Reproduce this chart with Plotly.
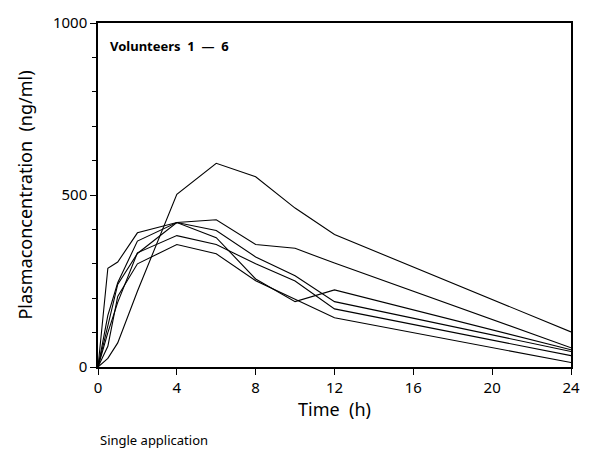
import plotly.graph_objects as go

time_h = [0, 0.5, 1, 2, 4, 6, 8, 10, 12, 24]

vol_1 = [0, 25, 70, 220, 502, 592, 553, 462, 385, 102]
vol_2 = [0, 120, 240, 330, 420, 428, 356, 345, 302, 56]
vol_3 = [0, 287, 305, 390, 420, 397, 320, 265, 190, 45]
vol_4 = [0, 150, 245, 366, 420, 376, 256, 190, 224, 50]
vol_5 = [0, 100, 188, 332, 382, 356, 300, 250, 169, 33]
vol_6 = [0, 60, 205, 300, 356, 329, 251, 197, 143, 13]

series = [vol_1, vol_2, vol_3, vol_4, vol_5, vol_6]

x_ticks = [0, 4, 8, 12, 16, 20, 24]
y_ticks = [0, 500, 1000]

FONT = "Noto Sans"
NB = "\u00a0"

fig = go.Figure()
for s in series:
    fig.add_trace(go.Scatter(x=time_h, y=s, mode="lines",
                             line=dict(color="black", width=1.1),
                             showlegend=False, hoverinfo="skip"))

fig.update_layout(
    width=592, height=450,
    margin=dict(l=98, r=20, t=20, b=83),
    paper_bgcolor="white", plot_bgcolor="white",
    font=dict(family=FONT, color="black", size=14),
    xaxis=dict(range=[0, 24], tickvals=x_ticks, ticktext=[str(v) for v in x_ticks],
               showgrid=False, zeroline=False, showline=True, linecolor="black",
               linewidth=1.5, mirror=True, ticks="outside", ticklen=6,
               tickcolor="black", tickwidth=1.2,
               tickfont=dict(size=15, family=FONT),
               title=dict(text="Time" + NB * 2 + "(h)", font=dict(size=18, family=FONT), standoff=8)),
    yaxis=dict(range=[0, 1000], tickvals=y_ticks, ticktext=[str(v) for v in y_ticks],
               showgrid=False, zeroline=False, showline=True, linecolor="black",
               linewidth=1.5, mirror=True, ticks="outside", ticklen=6,
               tickcolor="black", tickwidth=1.2,
               minor=dict(dtick=100, ticks="outside", ticklen=4, tickcolor="black", showgrid=False),
               tickfont=dict(size=15, family=FONT),
               title=dict(text="Plasmaconcentration" + NB * 2 + "(ng/ml)",
                          font=dict(size=18, family=FONT), standoff=16)),
)

fig.add_annotation(text="<b>Volunteers" + NB * 2 + "1" + NB * 2 + "\u2014" + NB * 2 + "6</b>",
                   xref="paper", yref="paper",
                   x=0.022, y=0.965, xanchor="left", yanchor="top", showarrow=False,
                   font=dict(size=13, family=FONT, color="black"))
fig.add_annotation(text="Single application", xref="paper", yref="paper",
                   x=0.0, y=-0.18, xanchor="left", yanchor="top", showarrow=False,
                   font=dict(size=13, family=FONT, color="black"))

fig.write_html("out.html")
